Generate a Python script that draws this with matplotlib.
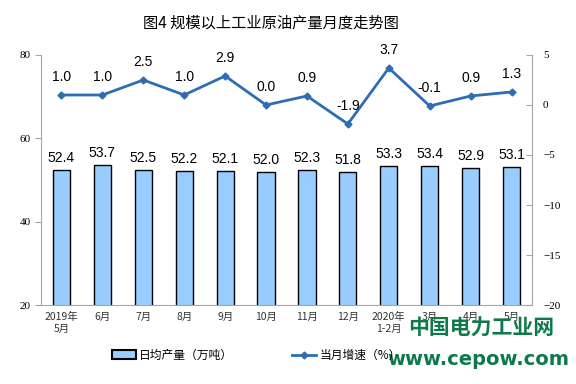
import matplotlib
matplotlib.use('Agg')
import matplotlib.pyplot as plt
from matplotlib.patches import Patch
from matplotlib.lines import Line2D

plt.rcParams['font.family'] = ['Noto Sans CJK SC', 'DejaVu Sans']

months = ['2019年\n5月', '6月', '7月', '8月', '9月', '10月', '11月', '12月',
          '2020年\n1-2月', '3月', '4月', '5月']
output = [52.4, 53.7, 52.5, 52.2, 52.1, 52.0, 52.3, 51.8, 53.3, 53.4, 52.9, 53.1]
growth = [1.0, 1.0, 2.5, 1.0, 2.9, 0.0, 0.9, -1.9, 3.7, -0.1, 0.9, 1.3]

bar_color = '#99CCFF'
line_color = '#2E6DB4'
grey = '#A6A6A6'

fig = plt.figure(figsize=(5.76, 3.84), dpi=100)
ax = fig.add_axes([0.0712, 0.2057, 0.8524, 0.6511])
x = list(range(len(months)))

ax.bar(x, output, width=0.42, color=bar_color, edgecolor='black', linewidth=1.0, zorder=2)
for xi, v in zip(x, output):
    ax.text(xi, v + 1.2, f'{v:.1f}', ha='center', va='bottom', fontsize=10,
            family='Liberation Sans')

ax.set_xlim(-0.5, len(months) - 0.5)
ax.set_ylim(20, 80)
ax.set_yticks([20, 40, 60, 80])
ax.set_xticks(x)
ax.set_xticklabels(months, fontsize=7.5, color='#333333', linespacing=1.3)
ax.tick_params(axis='x', length=0, pad=5)
ax.tick_params(axis='y', labelsize=8, length=4, color=grey, direction='out')
for lab in ax.get_yticklabels():
    lab.set_family('Liberation Serif')
for s in ['top', 'right']:
    ax.spines[s].set_visible(False)
for s in ['left', 'bottom']:
    ax.spines[s].set_color(grey)

ax2 = ax.twinx()
ax2.plot(x, growth, color=line_color, linewidth=2, marker='D', markersize=3.5, zorder=3)
for xi, v in zip(x, growth):
    ax2.text(xi, v + 1.1, f'{v:.1f}', ha='center', va='bottom', fontsize=10,
             family='Liberation Sans')
ax2.set_ylim(-20, 5)
ax2.set_yticks([-20, -15, -10, -5, 0, 5])
ax2.tick_params(axis='y', labelsize=8, length=4, color=grey, direction='in', pad=8)
for lab in ax2.get_yticklabels():
    lab.set_family('Liberation Serif')
for s in ['top', 'left', 'bottom']:
    ax2.spines[s].set_visible(False)
ax2.spines['right'].set_color(grey)

fig.text(0.47, 0.94, '图4 规模以上工业原油产量月度走势图', ha='center', va='center',
         fontsize=11)

handles = [Patch(facecolor=bar_color, edgecolor='black', linewidth=1.5),
           Line2D([0], [0], color=line_color, linewidth=2, marker='D', markersize=3.5)]
fig.legend(handles, ['日均产量（万吨）', '当月增速（%）'], loc='center',
           bbox_to_anchor=(0.445, 0.075), ncol=2, frameon=False, fontsize=8.5,
           columnspacing=5, handlelength=2.0, handletextpad=0.3)

# watermark
fig.text(0.835, 0.145, '中国电力工业网', ha='center', va='center', fontsize=15,
         color='#0E7A4A', weight='bold')
fig.text(0.83, 0.065, 'www.cepow.com', ha='center', va='center', fontsize=14,
         color='#0E7A4A', weight='bold', family='DejaVu Sans')

fig.savefig('out.png', dpi=100)
